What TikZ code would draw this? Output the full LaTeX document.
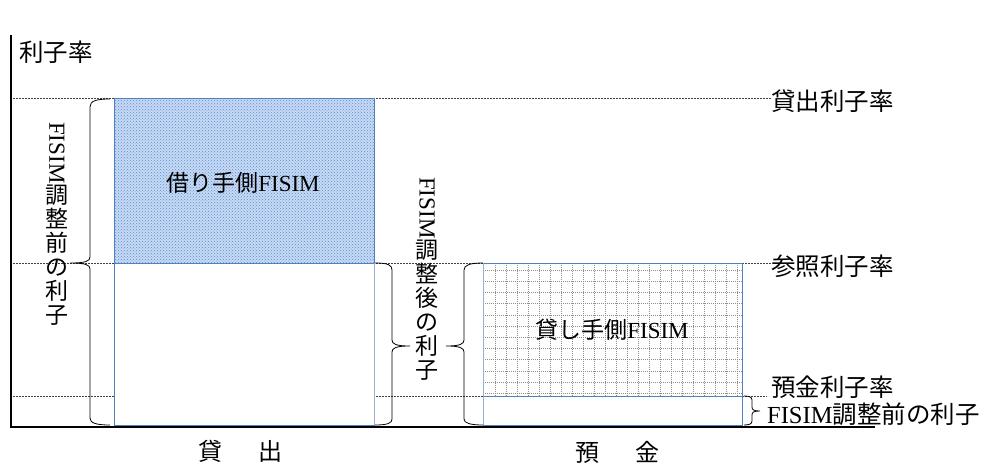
\documentclass[tikz,border=0pt]{standalone}
\usepackage{fontspec}
\setmainfont{Liberation Serif}
\newfontfamily\jp{Noto Sans CJK JP}
\usepackage{graphicx}
\usetikzlibrary{patterns}
\definecolor{boxblue}{RGB}{79,129,189}
\definecolor{lightbox}{RGB}{149,179,215}
\definecolor{dotfill}{RGB}{200,218,243}
\definecolor{dotcol}{RGB}{85,140,212}
\definecolor{gridgray}{RGB}{140,140,140}
\newcommand\bigfont{\fontsize{24.5}{25}\selectfont}
\newcommand\midfont{\fontsize{23}{24}\selectfont}
\begin{document}
\begin{tikzpicture}[x=1pt,y=-1pt,
  lbl/.style={font=\bigfont, inner sep=0pt},
  inlbl/.style={font=\midfont, inner sep=0pt},
  rateline/.style={dash pattern=on 2pt off 1pt, line width=0.7pt, black!75},
  bracepath/.style={line width=0.8pt},
  axisline/.style={line width=2.8pt},
  boxline/.style={boxblue, line width=0.9pt},
  gridline/.style={gridgray, dash pattern=on 1pt off 1pt, line width=0.6pt}]
\useasboundingbox (0,0) rectangle (1004,474);

% labels
\node[lbl, anchor=west] (ylab) at (19,52) {\jp 利子率};
\node[lbl, anchor=west] (lend) at (771,101) {\jp 貸出利子率};
\node[lbl, anchor=west] (ref) at (771,266) {\jp 参照利子率};
\node[lbl, anchor=west] (dep) at (771,387) {\jp 預金利子率};
\node[lbl, anchor=west] (before2) at (767,414) {FISIM{\jp 調整前の利子}};

% rate lines
\coordinate (l1) at (10,98);
\coordinate (l2) at (10,263);
\coordinate (l3) at (10,396);
\draw[rateline] (l1) -- (l1 -| lend.west);
\draw[rateline] (l2) -- (l2 -| ref.west);
\draw[rateline] (l3) -- ([xshift=-4pt]l3 -| dep.west);

% borrower FISIM box
\fill[dotfill] (114,98) rectangle (374,263);
\fill[pattern=crosshatch dots, pattern color=dotcol] (114,98) rectangle (374,263);
\draw[boxline] (114,98) rectangle (374,263);
\filldraw[fill=white, draw=boxblue, line width=0.9pt] (114,263) rectangle (374,425);
\draw[lightbox, line width=1pt] (374,263) -- (374,425);

% lender FISIM box
\fill[white] (483,263) rectangle (742,396);
\begin{scope}
\clip (483,263) rectangle (742,396);
\foreach \x in {495,506,...,742} \draw[gridline] (\x,263) -- (\x,396);
\foreach \y in {270,281.2,...,396} \draw[gridline] (483,\y) -- (742,\y);
\end{scope}
\draw[boxline] (483,263) rectangle (742,396);
\filldraw[fill=white, draw=boxblue, line width=0.9pt] (483,396) rectangle (742,425);
\draw[lightbox, line width=1pt] (483,263) -- (483,425);

% axes
\coordinate (ytop) at (11,35);
\coordinate (origin) at (11,427);
\coordinate (xend) at (875,427);
\draw[axisline] (ytop) -- ([yshift=1.4pt]origin);
\draw[axisline] ([xshift=-1.4pt]origin) -- (xend);

% inside labels
\node[inlbl] (borrow) at (243,183) {{\jp 借り手側}FISIM};
\node[inlbl] (lender) at (612,330) {{\jp 貸し手側}FISIM};
\node[inlbl, font=\fontsize{24}{25}\selectfont] (loanx) at (240,451) {\jp 貸\hspace{1.5em}出};
\node[inlbl, font=\fontsize{24}{25}\selectfont] (depx) at (617,452) {\jp 預\hspace{1.5em}金};

% vertical labels
\node[inlbl, anchor=north, align=center] (vbefore) at (57,122)
  {\rotatebox{-90}{FISIM}\\\jp 調\\\jp 整\\\jp 前\\\jp の\\\jp 利\\\jp 子};
\node[inlbl, anchor=north, align=center] (vafter) at (427,177)
  {\rotatebox{-90}{FISIM}\\\jp 調\\\jp 整\\\jp 後\\\jp の\\\jp 利\\\jp 子};

% braces
\draw[bracepath] (110,99) .. controls (96,99) and (90,101) .. (90,107) -- (90,257)
  .. controls (90,261) and (86,263) .. (70,263) .. controls (86,263) and (90,265) .. (90,269)
  -- (90,418) .. controls (90,423) and (96,425) .. (110,425);
\draw[bracepath] (375,263) .. controls (388,263) and (392,265) .. (392,270) -- (392,340)
  .. controls (392,344) and (396,346) .. (410,346) .. controls (396,346) and (392,348) .. (392,352)
  -- (392,419) .. controls (392,423) and (388,425) .. (375,425);
\draw[bracepath] (483,263) .. controls (470,263) and (464,265) .. (464,270) -- (464,340)
  .. controls (464,344) and (460,346) .. (446,346) .. controls (460,346) and (464,348) .. (464,352)
  -- (464,419) .. controls (464,423) and (470,425) .. (483,425);
\draw[bracepath] (744,396) .. controls (749,396) and (752,397) .. (752,400) -- (752,407)
  .. controls (752,410) and (754,411) .. (760,411) .. controls (754,411) and (752,412) .. (752,415)
  -- (752,421) .. controls (752,424) and (749,425) .. (744,425);
\end{tikzpicture}
\end{document}
